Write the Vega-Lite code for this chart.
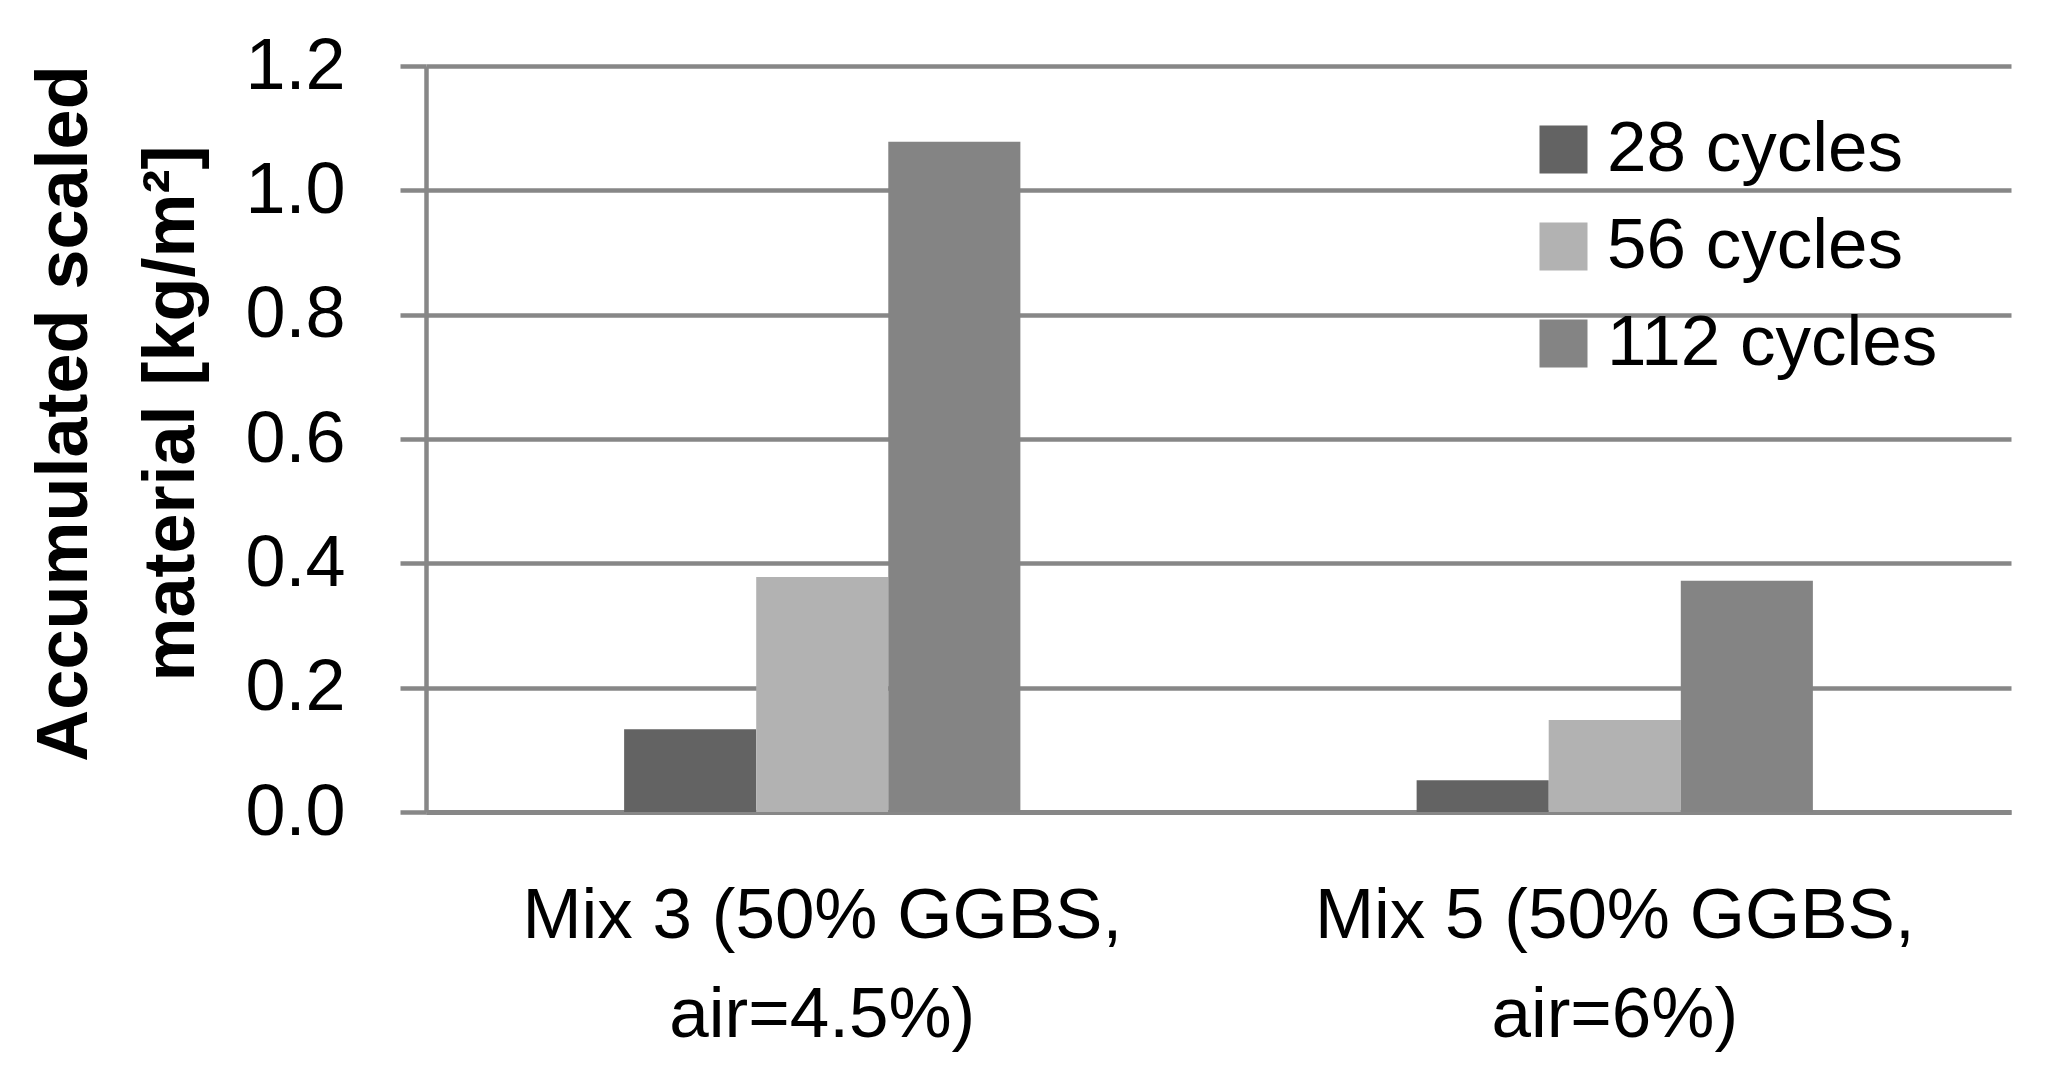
{
  "$schema": "https://vega.github.io/schema/vega-lite/v6.json",
  "autosize": {"type": "none"},
  "padding": {"left": 426, "top": 66, "right": 43, "bottom": 276},
  "width": 1585,
  "height": 746,
  "background": "white",
  "config": {
    "view": {"stroke": null},
    "font": "Liberation Sans"
  },
  "data": {
    "values": [
      {"mix": "Mix 3 (50% GGBS, air=4.5%)", "cycles": "28 cycles", "value": 0.133},
      {"mix": "Mix 3 (50% GGBS, air=4.5%)", "cycles": "56 cycles", "value": 0.378},
      {"mix": "Mix 3 (50% GGBS, air=4.5%)", "cycles": "112 cycles", "value": 1.078},
      {"mix": "Mix 5 (50% GGBS, air=6%)", "cycles": "28 cycles", "value": 0.051},
      {"mix": "Mix 5 (50% GGBS, air=6%)", "cycles": "56 cycles", "value": 0.148},
      {"mix": "Mix 5 (50% GGBS, air=6%)", "cycles": "112 cycles", "value": 0.372}
    ]
  },
  "mark": {"type": "bar"},
  "encoding": {
    "x": {
      "field": "mix",
      "type": "nominal",
      "sort": null,
      "scale": {"paddingInner": 0.5, "paddingOuter": 0.25},
      "axis": {
        "title": null,
        "labelAngle": 0,
        "ticks": false,
        "domain": true,
        "domainColor": "#878787",
        "domainWidth": 5,
        "labelFont": "Liberation Sans",
        "labelFontSize": 71,
        "labelColor": "#000000",
        "labelPadding": 69,
        "labelBaseline": "top",
        "labelLineHeight": 99,
        "labelLimit": 2000,
        "labelExpr": "[slice(datum.label, 0, indexof(datum.label, ',') + 1), slice(datum.label, indexof(datum.label, ',') + 2)]"
      }
    },
    "xOffset": {
      "field": "cycles",
      "type": "nominal",
      "sort": ["28 cycles", "56 cycles", "112 cycles"],
      "scale": {"paddingInner": 0, "paddingOuter": 0}
    },
    "y": {
      "field": "value",
      "type": "quantitative",
      "scale": {"domain": [0, 1.2], "nice": false},
      "axis": {
        "values": [0, 0.2, 0.4, 0.6, 0.8, 1.0, 1.2],
        "format": ".1f",
        "grid": true,
        "gridColor": "#878787",
        "gridWidth": 4.5,
        "gridOpacity": 1,
        "domain": true,
        "domainColor": "#878787",
        "domainWidth": 4.5,
        "ticks": true,
        "tickSize": 26,
        "tickColor": "#878787",
        "tickWidth": 4.5,
        "labelFont": "Liberation Sans",
        "labelFontSize": 72,
        "labelColor": "#000000",
        "labelPadding": 55,
        "title": ["Accumulated scaled", "material [kg/m²]"],
        "titleFont": "Liberation Sans",
        "titleFontWeight": "bold",
        "titleFontSize": 72,
        "titleColor": "#000000",
        "titleAngle": 270,
        "titleAlign": "center",
        "titleBaseline": "top",
        "titleLineHeight": 107,
        "titleX": -397,
        "titleY": 347
      }
    },
    "color": {
      "field": "cycles",
      "type": "nominal",
      "sort": ["28 cycles", "56 cycles", "112 cycles"],
      "scale": {
        "domain": ["28 cycles", "56 cycles", "112 cycles"],
        "range": ["#636363", "#b2b2b2", "#848484"]
      },
      "legend": {
        "title": null,
        "orient": "none",
        "legendX": 1102,
        "legendY": 48,
        "padding": 0,
        "symbolType": "square",
        "symbolSize": 2304,
        "symbolStrokeWidth": 0,
        "symbolOpacity": 1,
        "labelFont": "Liberation Sans",
        "labelFontSize": 71,
        "labelColor": "#000000",
        "labelOffset": 8,
        "rowPadding": 25,
        "labelLimit": 500
      }
    }
  }
}
